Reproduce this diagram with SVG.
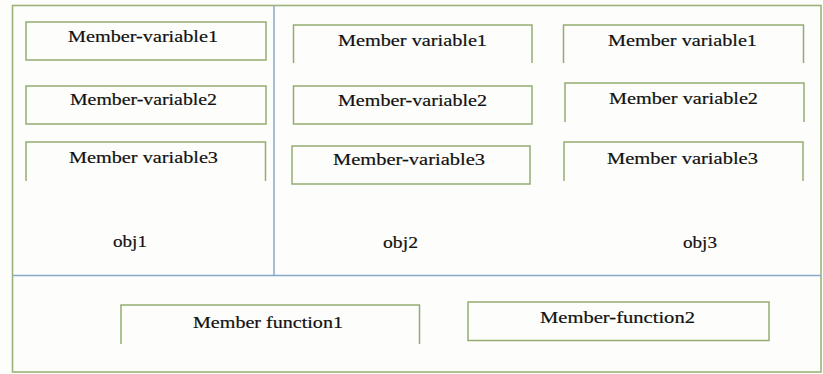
<svg xmlns="http://www.w3.org/2000/svg" width="823" height="374" viewBox="0 0 823 374">
  <style>
    .frame { fill: none; stroke: #9cb37a; stroke-width: 1.6; }
    .box { fill: none; stroke: #93ad70; stroke-width: 1.5; }
    .div { fill: none; stroke: #89a7c9; stroke-width: 1.5; }
    text { font-family: "Liberation Serif", "Times New Roman", serif; font-size: 17px; fill: #111111; stroke: #111111; stroke-width: 0.2; text-anchor: start; }
  </style>
  <rect width="823" height="374" fill="#fdfefb"/>

  <!-- outer frame and dividers -->
  <rect class="frame" x="12.5" y="5.5" width="808.5" height="366.5"/>
  <g id="dividers">
    <line class="div" x1="274" y1="5.5" x2="274" y2="275"/>
    <line class="div" x1="12.5" y1="275.5" x2="821" y2="275.5"/>
  </g>

  <!-- obj1 -->
  <g id="obj1-mv1">
    <rect class="box" x="26" y="22" width="240" height="38"/>
    <text x="68" y="42" textLength="150" lengthAdjust="spacingAndGlyphs">Member-variable1</text>
  </g>
  <g id="obj1-mv2">
    <rect class="box" x="26" y="86" width="240" height="38"/>
    <text x="70" y="105" textLength="147" lengthAdjust="spacingAndGlyphs">Member-variable2</text>
  </g>
  <g id="obj1-mv3">
    <path class="box" d="M26 181 V142 H265.5 V181"/>
    <text x="69" y="163" textLength="149" lengthAdjust="spacingAndGlyphs">Member variable3</text>
  </g>
  <g id="obj1-label">
    <text x="113" y="247" textLength="34" lengthAdjust="spacingAndGlyphs">obj1</text>
  </g>

  <!-- obj2 -->
  <g id="obj2-mv1">
    <path class="box" d="M293.5 63 V25 H532 V63"/>
    <text x="338" y="45.5" textLength="149" lengthAdjust="spacingAndGlyphs">Member variable1</text>
  </g>
  <g id="obj2-mv2">
    <rect class="box" x="293.5" y="86" width="238.5" height="38"/>
    <text x="338" y="106" textLength="149" lengthAdjust="spacingAndGlyphs">Member-variable2</text>
  </g>
  <g id="obj2-mv3">
    <rect class="box" x="292" y="146" width="238" height="38"/>
    <text x="333" y="165" textLength="152" lengthAdjust="spacingAndGlyphs">Member-variable3</text>
  </g>
  <g id="obj2-label">
    <text x="383" y="248" textLength="35" lengthAdjust="spacingAndGlyphs">obj2</text>
  </g>

  <!-- obj3 -->
  <g id="obj3-mv1">
    <path class="box" d="M563.5 63 V25 H803.5 V63"/>
    <text x="608" y="45.5" textLength="149" lengthAdjust="spacingAndGlyphs">Member variable1</text>
  </g>
  <g id="obj3-mv2">
    <path class="box" d="M565 122 V83 H804 V122"/>
    <text x="609" y="104" textLength="149" lengthAdjust="spacingAndGlyphs">Member variable2</text>
  </g>
  <g id="obj3-mv3">
    <path class="box" d="M564 181 V142 H803 V181"/>
    <text x="607" y="164" textLength="151" lengthAdjust="spacingAndGlyphs">Member variable3</text>
  </g>
  <g id="obj3-label">
    <text x="683" y="248" textLength="34" lengthAdjust="spacingAndGlyphs">obj3</text>
  </g>

  <!-- shared member functions -->
  <g id="mf1">
    <path class="box" d="M121 344 V305 H419.5 V344"/>
    <text x="193" y="328" textLength="150" lengthAdjust="spacingAndGlyphs">Member function1</text>
  </g>
  <g id="mf2">
    <rect class="box" x="468" y="302" width="301" height="38.5"/>
    <text x="540" y="323" textLength="155" lengthAdjust="spacingAndGlyphs">Member-function2</text>
  </g>
</svg>
